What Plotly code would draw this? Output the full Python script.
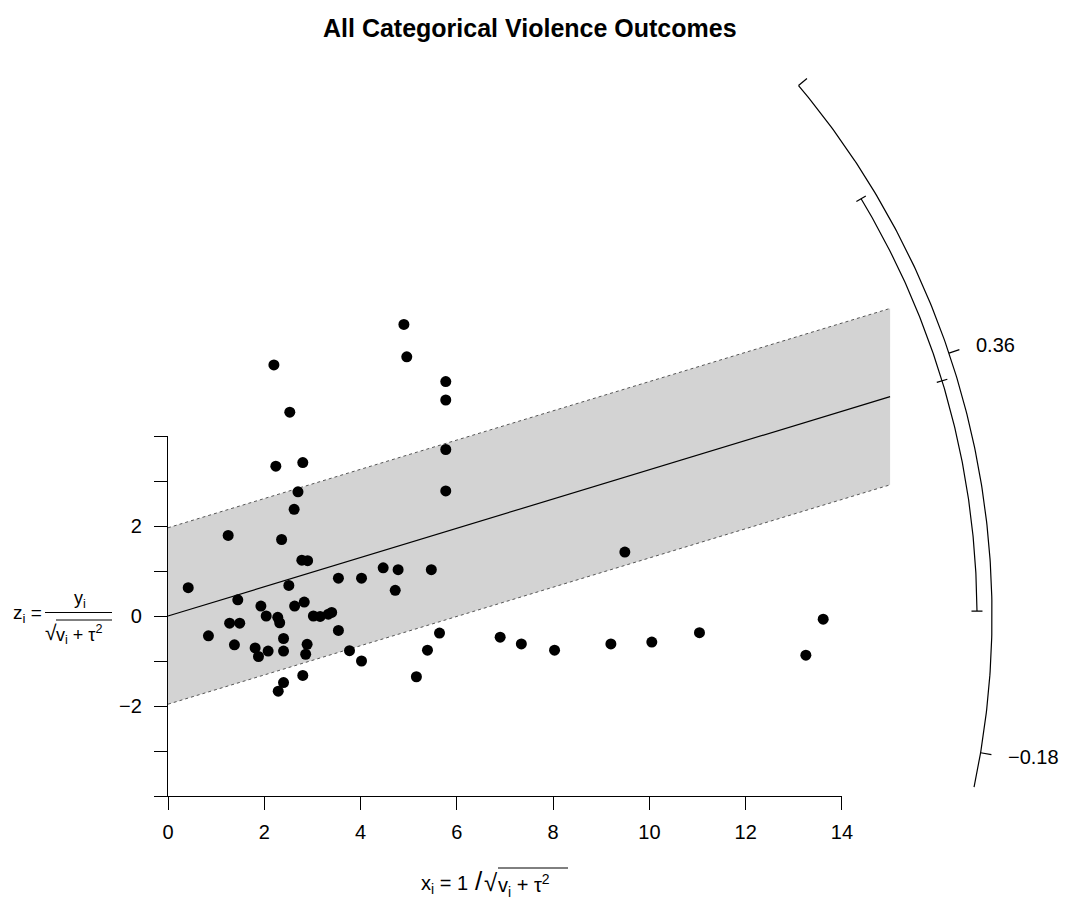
import numpy as np
import plotly.graph_objects as go

# ---------------- data ----------------
xi = [2.20, 2.53, 2.24, 2.80, 2.70, 4.90, 4.96, 5.77, 5.77, 5.77, 5.77,
      2.62, 1.25, 2.36, 2.78, 2.90, 0.42, 2.51, 3.54, 4.02, 4.47, 4.78,
      4.72, 1.45, 1.93, 2.04, 2.28, 2.32, 2.63, 2.83, 3.02, 3.16, 3.33,
      3.40, 3.54, 1.28, 1.49, 0.84, 1.38, 1.81, 1.88, 2.08, 2.40, 2.40,
      2.89, 2.86, 3.77, 4.02, 2.80, 2.40, 2.29, 5.47, 9.49, 5.64, 5.39,
      5.16, 6.90, 7.34, 8.03, 9.20, 10.05, 11.04, 13.61, 13.25]
zi = [5.58, 4.53, 3.33, 3.41, 2.76, 6.48, 5.76, 5.21, 4.80, 3.70, 2.78,
      2.37, 1.79, 1.70, 1.24, 1.23, 0.63, 0.68, 0.84, 0.84, 1.07, 1.03,
      0.57, 0.36, 0.22, 0.00, -0.03, -0.15, 0.22, 0.31, 0.00, -0.01, 0.04,
      0.08, -0.32, -0.16, -0.16, -0.44, -0.64, -0.71, -0.90, -0.78, -0.50, -0.78,
      -0.63, -0.85, -0.77, -1.00, -1.32, -1.48, -1.67, 1.03, 1.42, -0.38, -0.76,
      -1.35, -0.47, -0.62, -0.76, -0.62, -0.58, -0.37, -0.07, -0.87]

estimate = 0.325          # slope of the summary line
ci_lb, ci_ub = 0.0065, 0.644
crit = 1.96
band_xmax = 15.0
arc_min, arc_max = -0.227, 0.90
arc_ticks = [0.90, 0.36, -0.18]
arc_labels = ["", "0.36", "\u22120.18"]

x_ticks = [0, 2, 4, 6, 8, 10, 12, 14]
y_ticks = [-4, -3, -2, -1, 0, 1, 2, 3, 4]
y_ticklabels = ["", "", "\u22122", "", "0", "", "2", "", ""]

# ---------------- layout geometry ----------------
W, H = 1074, 903
PX0, PY0 = 168.0, 616.0     # pixel position of the origin
SX, SY = 48.14, 45.0        # pixels per unit
R_OUT, R_IN = 824.0, 809.0  # arc radii in pixels
FONT = "Liberation Sans, Arial, Helvetica, sans-serif"


def to_data(px, py):
    return (np.asarray(px) - PX0) / SX, (PY0 - np.asarray(py)) / SY


def angle_of(v):
    return np.arctan(np.asarray(v) * SY / SX)


def arc_points(v0, v1, r, n=200):
    th = np.linspace(angle_of(v0), angle_of(v1), n)
    return to_data(PX0 + r * np.cos(th), PY0 - r * np.sin(th))


def radial_seg(v, r0, r1):
    th = angle_of(v)
    return to_data([PX0 + r0 * np.cos(th), PX0 + r1 * np.cos(th)],
                   [PY0 - r0 * np.sin(th), PY0 - r1 * np.sin(th)])


fig = go.Figure()
line_kw = dict(color="black", width=1.2)

# confidence band
bx = [0, band_xmax, band_xmax, 0]
by = [crit, estimate * band_xmax + crit, estimate * band_xmax - crit, -crit]
fig.add_trace(go.Scatter(x=bx, y=by, fill="toself", fillcolor="#d3d3d3",
                         mode="lines", line=dict(width=0), hoverinfo="skip",
                         showlegend=False))
for s in (1, -1):
    fig.add_trace(go.Scatter(x=[0, band_xmax],
                             y=[s * crit, estimate * band_xmax + s * crit],
                             mode="lines", line=dict(color="#555555", width=1, dash="dot"),
                             showlegend=False, hoverinfo="skip"))
# summary line
fig.add_trace(go.Scatter(x=[0, band_xmax], y=[0, estimate * band_xmax],
                         mode="lines", line=line_kw, showlegend=False))

# outer arc + ticks
ax_, ay_ = arc_points(arc_min, arc_max, R_OUT)
fig.add_trace(go.Scatter(x=ax_, y=ay_, mode="lines", line=line_kw, showlegend=False))
for v in arc_ticks:
    sx, sy = radial_seg(v, R_OUT, R_OUT + 11)
    fig.add_trace(go.Scatter(x=sx, y=sy, mode="lines", line=line_kw, showlegend=False))

# inner arc (CI of estimate) + caps + estimate tick
ix, iy = arc_points(ci_lb, ci_ub, R_IN)
fig.add_trace(go.Scatter(x=ix, y=iy, mode="lines", line=line_kw, showlegend=False))
for v in (ci_lb, ci_ub, estimate):
    sx, sy = radial_seg(v, R_IN - 5.5, R_IN + 5.5)
    fig.add_trace(go.Scatter(x=sx, y=sy, mode="lines", line=line_kw, showlegend=False))

# points
fig.add_trace(go.Scatter(x=xi, y=zi, mode="markers",
                         marker=dict(color="black", size=11, line=dict(width=0)),
                         showlegend=False))

# arc labels
for v, lab in zip(arc_ticks, arc_labels):
    if not lab:
        continue
    th = angle_of(v)
    lx, ly = to_data(PX0 + 850 * np.cos(th), PY0 - 850 * np.sin(th))
    fig.add_annotation(x=float(lx), y=float(ly), text=lab, showarrow=False,
                       xanchor="left", yanchor="middle",
                       font=dict(family=FONT, size=20, color="black"))

# ---------------- axes ----------------
xr = [(0 - PX0) / SX, (W - PX0) / SX]
yr = [(PY0 - H) / SY, PY0 / SY]
tick_font = dict(family=FONT, size=20, color="black")
fig.update_layout(
    template="none",
    width=W, height=H, autosize=False,
    margin=dict(l=0, r=0, t=0, b=0, pad=0, autoexpand=False),
    paper_bgcolor="white", plot_bgcolor="rgba(0,0,0,0)",
    xaxis=dict(domain=[0, 1], range=xr, visible=False, fixedrange=True, automargin=False),
    yaxis=dict(domain=[0, 1], range=yr, visible=False, fixedrange=True, automargin=False),
    xaxis2=dict(domain=[PX0 / W, (PX0 + 14 * SX) / W], range=[0, 14], anchor="y2",
                automargin=False, fixedrange=True,
                tickvals=x_ticks, ticktext=[str(t) for t in x_ticks],
                ticks="outside", ticklen=13, tickwidth=1.2, tickcolor="black",
                showline=True, linecolor="black", linewidth=1.2,
                showgrid=False, zeroline=False, ticklabelstandoff=5,
                tickfont=tick_font),
    yaxis2=dict(domain=[1 - (PY0 + 4 * SY) / H, 1 - (PY0 - 4 * SY) / H], range=[-4, 4],
                anchor="x2", automargin=False, fixedrange=True,
                tickvals=y_ticks, ticktext=y_ticklabels,
                ticks="outside", ticklen=13, tickwidth=1.2, tickcolor="black",
                showline=True, linecolor="black", linewidth=1.2,
                showgrid=False, zeroline=False, ticklabelstandoff=8,
                tickfont=tick_font),
    showlegend=False,
)
# dummy trace to activate the visible axes
fig.add_trace(go.Scatter(x=[None], y=[None], xaxis="x2", yaxis="y2",
                         mode="markers", showlegend=False, hoverinfo="skip"))


def pp(px, py):
    return px / W, 1 - py / H


# title
tx, ty = pp(530, 28)
fig.add_annotation(xref="paper", yref="paper", x=tx, y=ty, showarrow=False,
                   text="<b>All Categorical Violence Outcomes</b>",
                   xanchor="center", yanchor="middle",
                   font=dict(family=FONT, size=25, color="black"))

lab_font = dict(family=FONT, size=18, color="black")
# y label: z_i = y_i / sqrt(v_i + tau^2)
x_, y_ = pp(44, 614)
fig.add_annotation(xref="paper", yref="paper", x=x_, y=y_, showarrow=False,
                   text="z<sub>i</sub> =", xanchor="right", yanchor="middle",
                   font=dict(family=FONT, size=19, color="black"))
x_, y_ = pp(80, 599)
fig.add_annotation(xref="paper", yref="paper", x=x_, y=y_, showarrow=False,
                   text="y<sub>i</sub>", xanchor="center", yanchor="middle", font=lab_font)
x_, y_ = pp(59, 632)
fig.add_annotation(xref="paper", yref="paper", x=x_, y=y_, showarrow=False,
                   text="\u221a", xanchor="right", yanchor="middle",
                   font=dict(family=FONT, size=21, color="black"))
x_, y_ = pp(54, 634)
fig.add_annotation(xref="paper", yref="paper", x=x_, y=y_, showarrow=False,
                   text="v<sub>i</sub> + \u03c4<sup>2</sup>", xanchor="left", yanchor="middle", font=lab_font)
for (a, b_, c) in [(45, 112, 612.5), (56, 112, 620)]:
    fig.add_shape(type="line", xref="paper", yref="paper",
                  x0=a / W, x1=b_ / W, y0=1 - c / H, y1=1 - c / H,
                  line=dict(color="black", width=1))

# x label: x_i = 1 / sqrt(v_i + tau^2)
xl_font = dict(family=FONT, size=20, color="black")
x_, y_ = pp(470, 884)
fig.add_annotation(xref="paper", yref="paper", x=x_, y=y_, showarrow=False,
                   text="x<sub>i</sub> = 1", xanchor="right", yanchor="middle", font=xl_font)
x_, y_ = pp(479, 881)
fig.add_annotation(xref="paper", yref="paper", x=x_, y=y_, showarrow=False,
                   text="/", xanchor="center", yanchor="middle",
                   font=dict(family=FONT, size=26, color="black"))
x_, y_ = pp(500, 882)
fig.add_annotation(xref="paper", yref="paper", x=x_, y=y_, showarrow=False,
                   text="\u221a", xanchor="right", yanchor="middle",
                   font=dict(family=FONT, size=24, color="black"))
x_, y_ = pp(496, 885)
fig.add_annotation(xref="paper", yref="paper", x=x_, y=y_, showarrow=False,
                   text="v<sub>i</sub> + \u03c4<sup>2</sup>", xanchor="left", yanchor="middle", font=xl_font)
fig.add_shape(type="line", xref="paper", yref="paper",
              x0=498 / W, x1=568 / W, y0=1 - 868 / H, y1=1 - 868 / H,
              line=dict(color="black", width=1))

fig.write_html(
    "out.html",
    config={"responsive": False, "displayModeBar": False},
    post_script="document.documentElement.style.overflow='hidden';"
                "document.body.style.overflow='hidden';document.body.style.margin='0';",
)
